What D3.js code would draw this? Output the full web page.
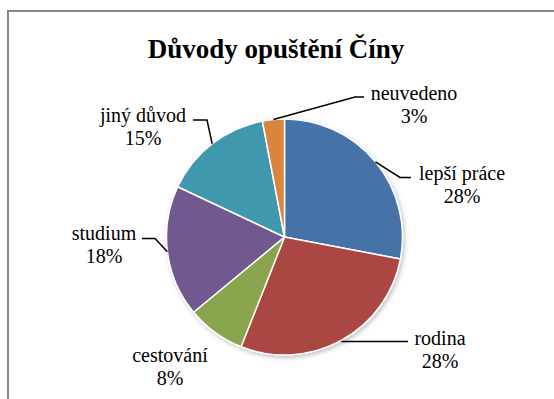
<!DOCTYPE html>
<html>
<head>
<meta charset="utf-8">
<script src="https://cdn.jsdelivr.net/npm/d3@7"></script>
<style>
  body { margin: 0; background: #fff; }
</style>
</head>
<body>
<div id="chart"></div>
<script>
// data
var categories = ["lepší práce", "rodina", "cestování", "studium", "jiný důvod", "neuvedeno"];
var values = [28, 28, 8, 18, 15, 3];
var percentLabels = ["28%", "28%", "8%", "18%", "15%", "3%"];
var colors = ["#4572A7", "#AA4643", "#89A54E", "#71588F", "#4198AF", "#DB843D"];

// dimensions
var width = 554, height = 399,
    cx = 284.5, cy = 237,
    radius = 118;

// label layout: text centre (x, y of first line) and leader elbow/end
var labelLayout = {
  "lepší práce": {x: 462, y: 173, elbowX: 400, endX: 411, lineY: 177.5},
  "rodina":      {x: 440, y: 338, elbowX: null, endX: 408, lineY: 341.5},
  "cestování":   {x: 170, y: 355, elbowX: null, endX: null, lineY: null},
  "studium":     {x: 104, y: 233, elbowX: 155, endX: 142, lineY: 238.5},
  "jiný důvod":  {x: 143, y: 115, elbowX: 207, endX: 193, lineY: 120},
  "neuvedeno":   {x: 414, y: 93,  elbowX: 355, endX: 364, lineY: 97}
};

var data = categories.map(function(c, i) {
  return {name: c, value: values[i], pct: percentLabels[i], color: colors[i]};
});

var svg = d3.select("#chart")
  .append("svg")
    .attr("width", width)
    .attr("height", height);

// shadow filter
var defs = svg.append("defs");
var f = defs.append("filter").attr("id", "shadow")
    .attr("x", "-20%").attr("y", "-20%").attr("width", "140%").attr("height", "140%");
f.append("feDropShadow")
    .attr("dx", 1.5).attr("dy", 2).attr("stdDeviation", 2)
    .attr("flood-color", "#000").attr("flood-opacity", 0.25);

// chart frame
svg.append("rect")
    .attr("x", 8).attr("y", 11)
    .attr("width", 600).attr("height", 450)
    .attr("fill", "none")
    .attr("stroke", "#888")
    .attr("stroke-width", 2);

// title
svg.append("text")
    .attr("x", 276)
    .attr("y", 58)
    .attr("text-anchor", "middle")
    .attr("font-family", "Liberation Serif")
    .attr("font-size", 27)
    .attr("font-weight", "bold")
    .text("Důvody opuštění Číny");

var pie = d3.pie()
    .sort(null)
    .value(function(d) { return d.value; });

var arc = d3.arc()
    .innerRadius(0)
    .outerRadius(radius);

var arcs = pie(data);

var g = svg.append("g")
    .attr("transform", "translate(" + cx + "," + cy + ")");

g.append("g")
    .attr("filter", "url(#shadow)")
  .selectAll("path")
  .data(arcs)
  .enter()
  .append("path")
    .attr("d", arc)
    .attr("fill", function(d) { return d.data.color; })
    .attr("stroke", "#fff")
    .attr("stroke-width", 1.5)
    .attr("stroke-linejoin", "round");

// leader lines
svg.append("g")
  .selectAll("polyline")
  .data(arcs.filter(function(d) { return labelLayout[d.data.name].endX !== null; }))
  .enter()
  .append("polyline")
    .attr("fill", "none")
    .attr("stroke", "#000")
    .attr("stroke-width", 1.5)
    .attr("points", function(d) {
      var L = labelLayout[d.data.name];
      var a = (d.startAngle + d.endAngle) / 2;
      var px = cx + radius * Math.sin(a),
          py = cy - radius * Math.cos(a);
      var pts = [[px, py]];
      if (L.elbowX !== null) pts.push([L.elbowX, L.lineY]);
      else pts[0][1] = L.lineY;
      pts.push([L.endX, L.lineY]);
      return pts.map(function(p) { return p.join(","); }).join(" ");
    });

// labels: name and percent as two text lines
var labelG = svg.append("g");

labelG.selectAll("text.name")
  .data(arcs)
  .enter()
  .append("text")
    .attr("class", "name")
    .attr("x", function(d) { return labelLayout[d.data.name].x; })
    .attr("y", function(d) { return labelLayout[d.data.name].y; })
    .attr("dy", "0.33em")
    .attr("text-anchor", "middle")
    .attr("font-family", "Liberation Serif")
    .attr("font-size", 20)
    .text(function(d) { return d.data.name; });

labelG.selectAll("text.pct")
  .data(arcs)
  .enter()
  .append("text")
    .attr("class", "pct")
    .attr("x", function(d) { return labelLayout[d.data.name].x; })
    .attr("y", function(d) { return labelLayout[d.data.name].y + 23.5; })
    .attr("dy", "0.33em")
    .attr("text-anchor", "middle")
    .attr("font-family", "Liberation Serif")
    .attr("font-size", 20)
    .text(function(d) { return d.data.pct; });
</script>
</body>
</html>
